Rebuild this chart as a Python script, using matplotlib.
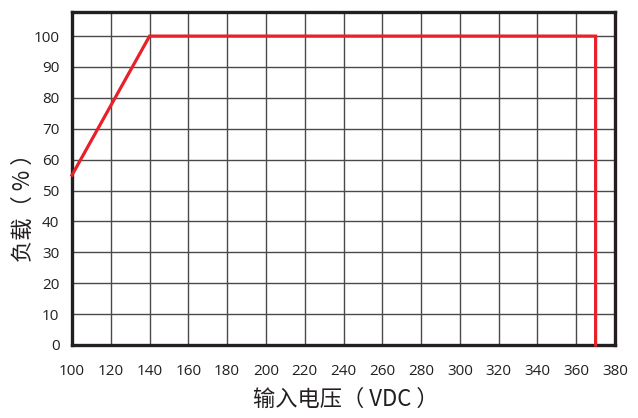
import matplotlib
matplotlib.use("Agg")
import matplotlib.pyplot as plt

# Derating curve: load (%) versus input voltage (VDC)
voltage = [100, 140, 370, 370]
load = [55, 100, 100, 0]

x_ticks = list(range(100, 381, 20))
y_ticks = list(range(0, 101, 10))

x_label = "输入电压（ VDC ）"
y_label = "负载（ % ）"

text_color = "#231f20"
line_color = "#e8202a"

plt.rcParams["font.family"] = ["Open Sans", "Noto Sans CJK SC", "DejaVu Sans"]

fig = plt.figure(figsize=(6.38, 4.18), dpi=100)
ax = fig.add_axes([72 / 638, 1 - 345 / 418, 543 / 638, 333 / 418])

ax.set_xlim(100, 380)
ax.set_ylim(0, 107.8)
ax.set_xticks(x_ticks)
ax.set_yticks(y_ticks)
ax.set_xticklabels([str(v) for v in x_ticks])
ax.set_yticklabels([str(v) for v in y_ticks])

ax.grid(True, color="#4a4a4a", linewidth=1.0)
ax.set_axisbelow(True)

for side in ax.spines.values():
    side.set_linewidth(2.4)
    side.set_color("#231f20")

ax.tick_params(axis="both", length=0, labelsize=11, colors=text_color)
ax.tick_params(axis="x", pad=14)
ax.tick_params(axis="y", pad=9)

ax.plot(voltage, load, color=line_color, linewidth=2.3, solid_joinstyle="miter",
        zorder=3, clip_on=False)

ax.set_xlabel(x_label, fontsize=16, color=text_color, fontweight="light",
              family=["Noto Sans CJK SC", "DejaVu Sans"])
ax.set_ylabel(y_label, fontsize=16, color=text_color, fontweight="light",
              family=["Noto Sans CJK SC", "DejaVu Sans"])
ax.xaxis.set_label_coords(0.505, -0.129)
ax.yaxis.set_label_coords(-0.068, 0.43)

fig.savefig("out.png", dpi=100)
